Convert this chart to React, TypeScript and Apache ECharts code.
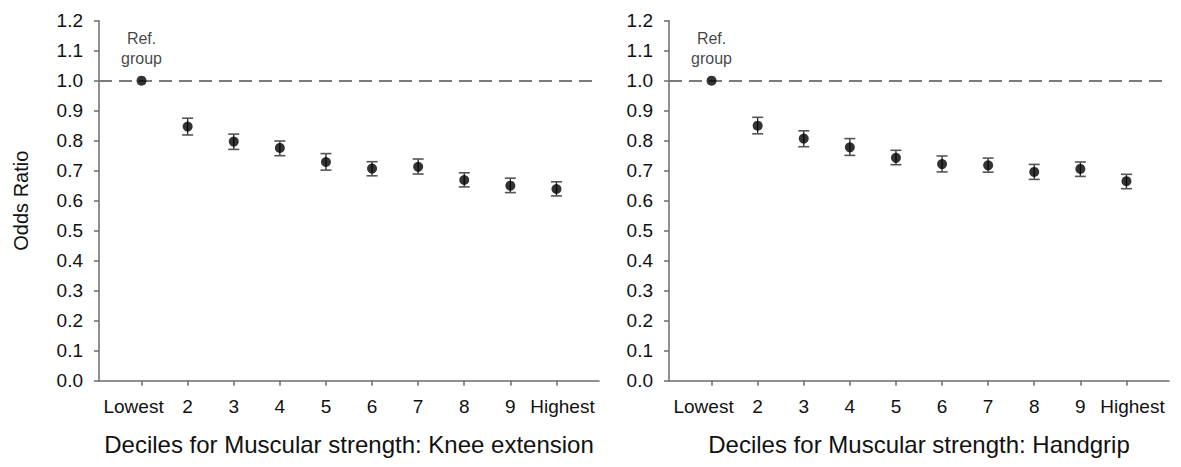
import React, { useEffect, useRef } from "react";
import * as echarts from "echarts";

const deciles = ["Lowest", "2", "3", "4", "5", "6", "7", "8", "9", "Highest"];
const yTicks = [0, 0.1, 0.2, 0.3, 0.4, 0.5, 0.6, 0.7, 0.8, 0.9, 1.0, 1.1, 1.2];

const kneeOR = [1.0, 0.847, 0.797, 0.776, 0.729, 0.707, 0.713, 0.669, 0.65, 0.639];
const kneeLower = [null, 0.819, 0.771, 0.75, 0.702, 0.683, 0.689, 0.646, 0.627, 0.616];
const kneeUpper = [null, 0.875, 0.822, 0.799, 0.757, 0.73, 0.739, 0.693, 0.675, 0.663];

const gripOR = [1.0, 0.85, 0.807, 0.778, 0.743, 0.722, 0.718, 0.696, 0.706, 0.665];
const gripLower = [null, 0.823, 0.78, 0.751, 0.72, 0.696, 0.695, 0.671, 0.681, 0.64];
const gripUpper = [null, 0.878, 0.833, 0.807, 0.768, 0.749, 0.742, 0.721, 0.729, 0.688];

const titles = [
  "Deciles for Muscular strength: Knee extension",
  "Deciles for Muscular strength: Handgrip",
];
const refLevel = 1.0;
const refLabel = "Ref.\ngroup";

const FONT = "'Liberation Sans', Arial, sans-serif";
const AXIS_COLOR = "#6b6b6b";
const TEXT_COLOR = "#111";

export default function App() {
  const ref = useRef<HTMLDivElement>(null);
  useEffect(() => {
    const chart = echarts.init(ref.current!, null, { renderer: "svg" });
    const xs = deciles.map((_, i) => i + 1);
    const panels = [
      { or: kneeOR, lo: kneeLower, hi: kneeUpper },
      { or: gripOR, lo: gripLower, hi: gripUpper },
    ];
    const xMin = 0.077;
    const xMax = 10.923;

    const xAxis = panels.map((_, k) => ({
      type: "value",
      gridIndex: k,
      min: xMin,
      max: xMax,
      name: titles[k],
      nameLocation: "middle",
      nameGap: 52,
      nameTextStyle: { fontSize: 24, color: TEXT_COLOR, fontFamily: FONT },
      splitLine: { show: false },
      axisLine: { show: true, lineStyle: { color: AXIS_COLOR, width: 1.5 } },
      axisTick: {
        show: true,
        customValues: xs,
        length: 5,
        lineStyle: { color: AXIS_COLOR, width: 1.5 },
      },
      axisLabel: {
        customValues: xs,
        margin: 16,
        fontSize: 19,
        color: TEXT_COLOR,
        fontFamily: FONT,
        formatter: (v: number) => {
          const i = Math.round(v) - 1;
          if (i === 0) return "{l|" + deciles[i] + "}";
          if (i === deciles.length - 1) return "{h|" + deciles[i] + "}";
          return deciles[i];
        },
        rich: {
          l: { fontSize: 19, color: TEXT_COLOR, fontFamily: FONT, padding: [0, 16, 0, 0] },
          h: { fontSize: 19, color: TEXT_COLOR, fontFamily: FONT, padding: [0, 0, 0, 12] },
        },
      },
    }));

    const yAxis = panels.map((_, k) => ({
      type: "value",
      gridIndex: k,
      min: 0,
      max: 1.2,
      interval: 0.1,
      name: k === 0 ? "Odds Ratio" : "",
      nameLocation: "middle",
      nameGap: 68,
      nameTextStyle: { fontSize: 20, color: TEXT_COLOR, fontFamily: FONT },
      splitLine: { show: false },
      axisLine: { show: true, lineStyle: { color: AXIS_COLOR, width: 1.5 } },
      axisTick: { show: true, length: 5, lineStyle: { color: AXIS_COLOR, width: 1.5 } },
      axisLabel: {
        margin: 16,
        fontSize: 19,
        color: TEXT_COLOR,
        fontFamily: FONT,
        formatter: (v: number) => {
          const t = yTicks.find((y) => Math.abs(y - v) < 1e-6);
          return (t !== undefined ? t : v).toFixed(1);
        },
      },
    }));

    const series: any[] = [];
    panels.forEach((p, k) => {
      const errData = xs
        .map((x, i) => (p.lo[i] == null ? null : [x, p.lo[i], p.hi[i]]))
        .filter((d) => d !== null);
      series.push({
        type: "custom",
        xAxisIndex: k,
        yAxisIndex: k,
        z: 3,
        data: errData,
        renderItem: (params: any, api: any) => {
          const x = api.value(0);
          const top = api.coord([x, api.value(2)]);
          const bot = api.coord([x, api.value(1)]);
          const hw = 5.5;
          return {
            type: "group",
            children: [
              {
                type: "line",
                shape: { x1: top[0], y1: top[1], x2: bot[0], y2: bot[1] },
                style: { stroke: "#222", lineWidth: 1.3 },
              },
              {
                type: "line",
                shape: { x1: top[0] - hw, y1: top[1], x2: top[0] + hw, y2: top[1] },
                style: { stroke: "#555", lineWidth: 1.6 },
              },
              {
                type: "line",
                shape: { x1: bot[0] - hw, y1: bot[1], x2: bot[0] + hw, y2: bot[1] },
                style: { stroke: "#555", lineWidth: 1.6 },
              },
            ],
          };
        },
      });
      series.push({
        type: "scatter",
        xAxisIndex: k,
        yAxisIndex: k,
        z: 5,
        symbol: "circle",
        symbolSize: 10,
        itemStyle: { color: "#000" },
        data: xs.map((x, i) =>
          i === 0
            ? {
                value: [x, p.or[i]],
                label: {
                  show: true,
                  position: "top",
                  distance: 7,
                  formatter: refLabel,
                  fontSize: 16,
                  lineHeight: 20,
                  color: TEXT_COLOR,
                  fontFamily: FONT,
                  align: "center",
                },
              }
            : { value: [x, p.or[i]] }
        ),
        markLine: {
          silent: true,
          symbol: "none",
          z: 1,
          label: { show: false },
          lineStyle: { color: "#7a7a7a", width: 2, type: [13, 7] },
          data: [
            [
              { coord: [xMin, refLevel] },
              { coord: [10.79, refLevel] },
            ],
          ],
        },
      });
    });

    chart.setOption({
      animation: false,
      backgroundColor: "#fff",
      textStyle: { fontFamily: FONT },
      grid: [
        { left: 99, top: 20.7, width: 500, height: 360 },
        { left: 669, top: 20.7, width: 500, height: 360 },
      ],
      xAxis,
      yAxis,
      series,
    });
    return () => chart.dispose();
  }, []);
  return (
    <div
      ref={ref}
      style={{ position: "fixed", left: 0, top: 0, width: 1181, height: 467 }}
    />
  );
}
